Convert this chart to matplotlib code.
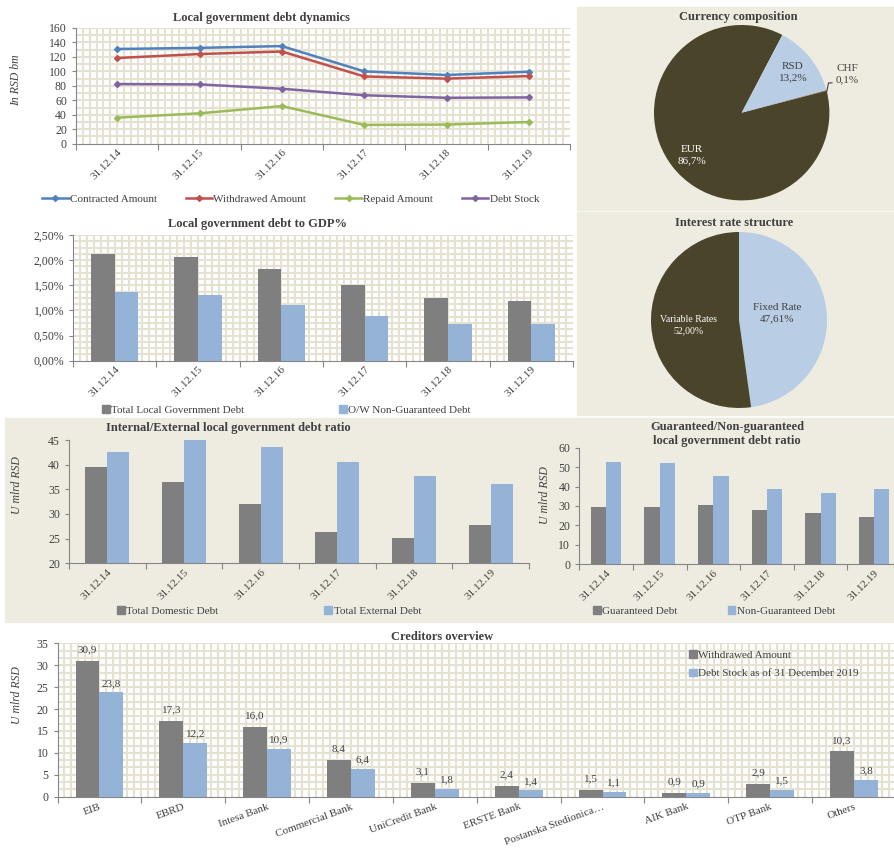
import matplotlib
matplotlib.use('Agg')
import matplotlib.pyplot as plt
import numpy as np
from matplotlib.patches import Rectangle, Patch

plt.rcParams['font.family'] = ['Liberation Serif', 'DejaVu Serif']
plt.rcParams['font.size'] = 8

# ---- data ----
years = ['31.12.14', '31.12.15', '31.12.16', '31.12.17', '31.12.18', '31.12.19']
contracted = [131, 132.5, 135, 100, 95, 99.5]
withdrawn = [118.5, 124, 127.5, 93, 90, 93.5]
repaid = [36, 42, 52, 26, 26.5, 30]
debt_stock = [82.5, 82, 76, 67, 63.5, 64]

total_gdp = [2.12, 2.06, 1.83, 1.50, 1.25, 1.18]
nonguar_gdp = [1.36, 1.31, 1.10, 0.88, 0.73, 0.73]

domestic = [39.6, 36.4, 32.1, 26.3, 25.2, 27.7]
external = [42.5, 45.0, 43.6, 40.6, 37.8, 36.0]

guaranteed = [29.3, 29.5, 30.3, 28.0, 26.2, 24.5]
non_guaranteed = [52.6, 52.2, 45.4, 39.0, 36.8, 39.0]

currency_labels = ['EUR', 'RSD', 'CHF']
currency_share = [86.7, 13.2, 0.1]

rate_labels = ['Fixed Rate', 'Variable Rates']
rate_share = [47.61, 52.00]

creditors = ['EIB', 'EBRD', 'Intesa Bank', 'Commercial Bank', 'UniCredit Bank',
             'ERSTE Bank', 'Postanska Stedionica…', 'AIK Bank', 'OTP Bank', 'Others']
cred_withdrawn = [30.9, 17.3, 16.0, 8.4, 3.1, 2.4, 1.5, 0.9, 2.9, 10.3]
cred_stock = [23.8, 12.2, 10.9, 6.4, 1.8, 1.4, 1.1, 0.9, 1.5, 3.8]

# ---- style ----
W, H = 894, 850
txt = '#404040'
spine = '#868686'
beige = '#EEECE1'
gridc = '#E6E2D2'
grey = '#7F7F7F'
blue = '#95B3D7'
dark = '#4A442A'
light = '#B9CDE5'
bw = 0.285


def box(l, t, r, b):
    return [l / W, 1 - b / H, (r - l) / W, (b - t) / H]


def fx(x):
    return x / W


def fy(y):
    return 1 - y / H


def fmt(v, nd=1):
    return f'{v:.{nd}f}'.replace('.', ',')


def base_axes(rect, n, labels, rot, pad, ticks):
    ax = fig.add_axes(rect)
    for s in ['top', 'right']:
        ax.spines[s].set_visible(False)
    for s in ['left', 'bottom']:
        ax.spines[s].set_color(spine)
    ax.set_xlim(0, n)
    ax.set_xticks(np.arange(n + 1))
    ax.set_xticklabels([])
    ax.set_xticks(np.arange(n) + 0.5, labels, minor=True, rotation=rot,
                  ha='right', rotation_mode='anchor', color=txt, fontsize=8)
    ax.tick_params(axis='x', which='minor', length=0, pad=pad)
    ax.tick_params(axis='x', which='major', length=4, color=spine)
    ax.tick_params(axis='y', length=3, color=spine, labelcolor=txt, labelsize=8.5)
    ax.set_yticks(ticks)
    return ax


def pattern(ax, n, ystep, ymax):
    # Excel-like "large grid" pattern fill of the plot area
    ax.vlines(np.arange(1, n * 12) / 12, 0, ymax, color=gridc, lw=1.5, zorder=0)
    ax.hlines(np.arange(ystep, ymax + ystep / 2, ystep), 0, n, color=gridc, lw=1.5, zorder=0)


fig = plt.figure(figsize=(W / 100, H / 100), dpi=100)
fig.patch.set_facecolor('white')

# panel backgrounds
for (l, t, r, b) in [(577, 7, 894, 210), (577, 212, 894, 415), (5, 418, 894, 622)]:
    fig.add_artist(Rectangle((fx(l), fy(b)), (r - l) / W, (b - t) / H,
                             transform=fig.transFigure, color=beige, zorder=-5))

x = np.arange(len(years)) + 0.5

# ---- 1. debt dynamics ----
ax1 = base_axes(box(76, 28, 570, 143.7), 6, years, 45, 3, np.arange(0, 161, 20))
ax1.set_ylim(0, 160)
pattern(ax1, 6, 10, 160)
series = [(contracted, '#4F81BD', 'Contracted Amount'),
          (withdrawn, '#C0504D', 'Withdrawed Amount'),
          (repaid, '#9BBB59', 'Repaid Amount'),
          (debt_stock, '#8064A2', 'Debt Stock')]
for vals, c, lab in series:
    ax1.plot(x, vals, color=c, lw=1.8, marker='D', ms=3, label=lab, zorder=3)
fig.text(fx(261), fy(18), 'Local government debt dynamics', ha='center', va='center',
         fontsize=9, fontweight='bold', color=txt)
fig.text(fx(16), fy(80), 'In RSD bm', rotation=90, ha='center', va='center',
         fontsize=8.5, style='italic', color=txt)
h, l = ax1.get_legend_handles_labels()
fig.legend(h, l, loc='center left', bbox_to_anchor=(fx(42), fy(199)), ncol=4,
           frameon=False, fontsize=8, handlelength=2.4, handletextpad=0.1,
           columnspacing=2.6, borderpad=0, borderaxespad=0, labelcolor=txt)

# ---- 2. debt to GDP ----
ax2 = base_axes(box(73, 235, 573, 360.7), 6, years, 45, 3, np.arange(0, 2.51, 0.5))
ax2.set_ylim(0, 2.5)
ax2.set_yticklabels([fmt(v, 2) + '%' for v in np.arange(0, 2.51, 0.5)])
pattern(ax2, 6, 0.125, 2.5)
ax2.bar(x - bw / 2, total_gdp, bw, color=grey, zorder=2)
ax2.bar(x + bw / 2, nonguar_gdp, bw, color=blue, zorder=2)
fig.text(fx(258), fy(224), 'Local government debt to GDP%', ha='center', va='center',
         fontsize=9, fontweight='bold', color=txt)
leg_kw = dict(frameon=False, fontsize=8, handlelength=0.7, handleheight=0.7,
              handletextpad=0.15, borderpad=0, borderaxespad=0, labelcolor=txt)
fig.legend([Patch(color=grey), Patch(color=blue)],
           ['Total Local Government Debt', 'O/W Non-Guaranteed Debt'],
           loc='center left', bbox_to_anchor=(fx(102), fy(410)), ncol=2,
           columnspacing=8.5, **leg_kw)

# ---- 3. currency pie ----
ax3 = fig.add_axes(box(654, 25, 829.4, 200.4))
ax3.pie(currency_share, colors=[dark, light, '#8B5A3C'], startangle=14.5,
        counterclock=False, wedgeprops=dict(linewidth=0))
ax3.set_xlim(-1, 1)
ax3.set_ylim(-1, 1)
ax3.set_aspect('equal')
ax3.axis('off')
ax3.text(0.585, 0.46, f'{currency_labels[1]}\n{fmt(currency_share[1])}%', ha='center',
         va='center', fontsize=8, color=txt, linespacing=1.3)
ax3.text(-0.57, -0.48, f'{currency_labels[0]}\n{fmt(currency_share[0])}%', ha='center',
         va='center', fontsize=8, color='white', linespacing=1.3)
ax3.text(1.2, 0.44, f'{currency_labels[2]}\n{fmt(currency_share[2])}%', ha='center',
         va='center', fontsize=8, color=txt, linespacing=1.3, clip_on=False)
ax3.plot([0.97, 0.99, 1.03], [0.24, 0.34, 0.34], color=txt, lw=0.8, clip_on=False)
fig.text(fx(738), fy(17), 'Currency composition', ha='center', va='center',
         fontsize=9, fontweight='bold', color=txt)

# ---- 4. interest rate pie ----
ax4 = fig.add_axes(box(651, 232, 827, 408))
ax4.pie(rate_share, colors=[light, dark], startangle=90, counterclock=False,
        wedgeprops=dict(linewidth=0))
ax4.set_xlim(-1, 1)
ax4.set_ylim(-1, 1)
ax4.set_aspect('equal')
ax4.axis('off')
ax4.text(0.43, 0.08, f'{rate_labels[0]}\n{fmt(rate_share[0], 2)}%', ha='center',
         va='center', fontsize=8, color=txt, linespacing=1.3)
ax4.text(-0.57, -0.06, f'{rate_labels[1]}\n{fmt(rate_share[1], 2)}%', ha='center',
         va='center', fontsize=7, color='white', linespacing=1.3)
fig.text(fx(734), fy(223), 'Interest rate structure', ha='center', va='center',
         fontsize=9, fontweight='bold', color=txt)

# ---- 5. internal / external ----
ax5 = base_axes(box(69, 440, 529, 563.3), 6, years, 45, 3, np.arange(20, 46, 5))
ax5.set_facecolor('none')
ax5.set_ylim(20, 45)
ax5.bar(x - bw / 2, domestic, bw, color=grey, zorder=2)
ax5.bar(x + bw / 2, external, bw, color=blue, zorder=2)
fig.text(fx(228), fy(428), 'Internal/External local government debt ratio', ha='center',
         va='center', fontsize=9, fontweight='bold', color=txt)
fig.text(fx(17), fy(485), 'U mlrd RSD', rotation=90, ha='center', va='center',
         fontsize=8.5, style='italic', color=txt)
fig.legend([Patch(color=grey), Patch(color=blue)],
           ['Total Domestic Debt', 'Total External Debt'],
           loc='center left', bbox_to_anchor=(fx(117), fy(611)), ncol=2,
           columnspacing=9.5, **leg_kw)

# ---- 6. guaranteed / non-guaranteed ----
ax6 = base_axes(box(579.3, 447.7, 901, 564.3), 6, years, 45, 3, np.arange(0, 61, 10))
ax6.set_facecolor('none')
ax6.set_ylim(0, 60)
ax6.bar(x - bw / 2, guaranteed, bw, color=grey, zorder=2)
ax6.bar(x + bw / 2, non_guaranteed, bw, color=blue, zorder=2)
fig.text(fx(727), fy(434), 'Guaranteed/Non-guaranteed\nlocal government debt ratio',
         ha='center', va='center', fontsize=9, fontweight='bold', color=txt, linespacing=1.2)
fig.text(fx(545), fy(495), 'U mlrd RSD', rotation=90, ha='center', va='center',
         fontsize=8.5, style='italic', color=txt)
fig.legend([Patch(color=grey), Patch(color=blue)],
           ['Guaranteed Debt', 'Non-Guaranteed Debt'],
           loc='center left', bbox_to_anchor=(fx(593), fy(611)), ncol=2,
           columnspacing=4.5, **leg_kw)

# ---- 7. creditors ----
xc = np.arange(len(creditors)) + 0.5
ax7 = base_axes(box(57.5, 643.3, 896, 796.6), 10, creditors, 20, 4, np.arange(0, 36, 5))
ax7.set_ylim(0, 35)
pattern(ax7, 10, 5 / 3, 35)
ax7.bar(xc - bw / 2, cred_withdrawn, bw, color=grey, zorder=2)
ax7.bar(xc + bw / 2, cred_stock, bw, color=blue, zorder=2)
for xi, v in zip(xc - bw / 2, cred_withdrawn):
    ax7.annotate(fmt(v), (xi, v), xytext=(0, 8), textcoords='offset points',
                 ha='center', va='center', fontsize=8, color=txt)
for xi, v in zip(xc + bw / 2, cred_stock):
    ax7.annotate(fmt(v), (xi, v), xytext=(0, 6.5), textcoords='offset points',
                 ha='center', va='center', fontsize=8, color=txt)
fig.text(fx(442), fy(637), 'Creditors overview', ha='center', va='center',
         fontsize=9, fontweight='bold', color=txt)
fig.text(fx(17), fy(695), 'U mlrd RSD', rotation=90, ha='center', va='center',
         fontsize=8.5, style='italic', color=txt)
fig.legend([Patch(color=grey), Patch(color=blue)],
           ['Withdrawed Amount', 'Debt Stock as of 31 December 2019'],
           loc='upper left', bbox_to_anchor=(fx(689), fy(650)), ncol=1,
           labelspacing=0.8, **leg_kw)

fig.savefig('out.png', dpi=100)
